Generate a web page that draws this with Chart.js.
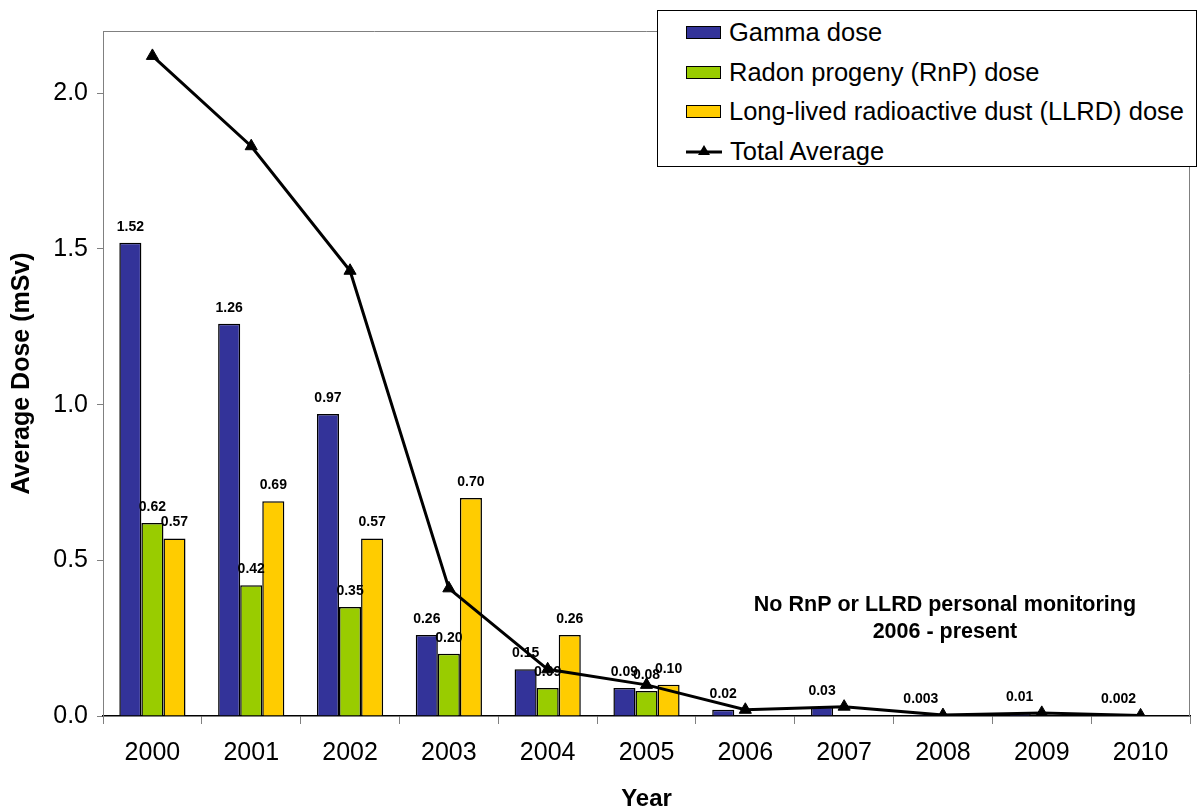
<!DOCTYPE html>
<html>
<head>
<meta charset="utf-8">
<script src="https://cdn.jsdelivr.net/npm/chart.js@4"></script>
<style>
    body { margin: 0; background: #fff; font-family: "Liberation Sans", Arial, sans-serif; }
    #wrap { position: relative; width: 1200px; height: 807px; }
    #legend {
        position: absolute; left: 657px; top: 10px; width: 540px; height: 157px;
        border: 1px solid #000; background: #fff; box-sizing: border-box;
        font-size: 25.5px; color: #000;
    }
    .legend-item { position: absolute; left: 28px; display: flex; align-items: center; height: 30px; }
    .swatch { width: 33px; height: 11px; border: 1.5px solid #000; margin-right: 8px; }
</style>
</head>
<body>
<div id="wrap">
    <canvas id="doseChart"></canvas>
    <div id="legend">
        <div class="legend-item" style="top: 6px;"><span class="swatch" style="background:#333399"></span>Gamma dose</div>
        <div class="legend-item" style="top: 46px;"><span class="swatch" style="background:#99CC00"></span>Radon progeny (RnP) dose</div>
        <div class="legend-item" style="top: 85px;"><span class="swatch" style="background:#FFCC00"></span>Long-lived radioactive dust (LLRD) dose</div>
        <div class="legend-item" style="top: 125px;">
            <svg width="36" height="14" style="margin-right:8px"><line x1="0" y1="8" x2="36" y2="8" stroke="#000" stroke-width="3"/><polygon points="18,1 24,11 12,11" fill="#000"/></svg>Total Average
        </div>
    </div>
</div>
<script>
const years = ['2000', '2001', '2002', '2003', '2004', '2005', '2006', '2007', '2008', '2009', '2010'];
const gammaDose = [1.52, 1.26, 0.97, 0.26, 0.15, 0.09, 0.02, 0.03, 0.003, 0.01, 0.002];
const radonDose = [0.62, 0.42, 0.35, 0.20, 0.09, 0.08, null, null, null, null, null];
const dustDose = [0.57, 0.69, 0.57, 0.70, 0.26, 0.10, null, null, null, null, null];
const totalAverage = [2.12, 1.83, 1.43, 0.41, 0.15, 0.10, 0.02, 0.03, 0.003, 0.01, 0.002];
const yTicks = [0, 0.5, 1.0, 1.5, 2.0];

const FONT = '"Liberation Sans", Arial, sans-serif';

function formatLabel(v) {
    return v < 0.01 ? v.toFixed(3) : v.toFixed(2);
}

// value labels above the bars
const barLabels = {
    id: 'barLabels',
    afterDatasetsDraw(chart) {
        const ctx = chart.ctx;
        ctx.save();
        ctx.font = 'bold 14px ' + FONT;
        ctx.fillStyle = '#000';
        ctx.textAlign = 'center';
        ctx.textBaseline = 'middle';
        chart.data.datasets.forEach((ds, i) => {
            if (ds.type === 'line') return;
            const meta = chart.getDatasetMeta(i);
            meta.data.forEach((bar, j) => {
                const v = ds.data[j];
                if (v == null) return;
                ctx.fillText(formatLabel(v), bar.x, bar.y - 16);
            });
        });
        ctx.restore();
    }
};

// plot frame + note text
const frame = {
    id: 'frame',
    beforeDatasetsDraw(chart) {
        const { ctx, chartArea: a } = chart;
        ctx.save();
        ctx.strokeStyle = '#808080';
        ctx.lineWidth = 1;
        ctx.beginPath();
        ctx.moveTo(a.left, a.top + 0.5);
        ctx.lineTo(a.right - 0.5, a.top + 0.5);
        ctx.lineTo(a.right - 0.5, a.bottom);
        ctx.stroke();
        ctx.restore();
    },
    afterDraw(chart) {
        const ctx = chart.ctx;
        const x = chart.scales.x.getPixelForValue(8);
        const y = chart.scales.y;
        ctx.save();
        ctx.font = 'bold 21.5px ' + FONT;
        ctx.fillStyle = '#000';
        ctx.textAlign = 'center';
        ctx.textBaseline = 'middle';
        ctx.fillText('No RnP or LLRD personal monitoring', x + 2, y.getPixelForValue(0.355));
        ctx.fillText('2006 - present', x + 2, y.getPixelForValue(0.268));
        ctx.restore();
    }
};

const ctx = document.getElementById('doseChart').getContext('2d');
new Chart(ctx, {
    type: 'bar',
    data: {
        labels: years,
        datasets: [
            {
                type: 'line',
                label: 'Total Average',
                data: totalAverage,
                borderColor: '#000',
                backgroundColor: '#000',
                borderWidth: 3,
                pointStyle: 'triangle',
                pointRadius: 7,
                pointBorderWidth: 1,
                tension: 0,
                order: 0
            },
            {
                label: 'Gamma dose',
                data: gammaDose,
                backgroundColor: '#333399',
                borderColor: '#000',
                borderWidth: 1.5,
                order: 1
            },
            {
                label: 'Radon progeny (RnP) dose',
                data: radonDose,
                backgroundColor: '#99CC00',
                borderColor: '#000',
                borderWidth: 1.5,
                order: 1
            },
            {
                label: 'Long-lived radioactive dust (LLRD) dose',
                data: dustDose,
                backgroundColor: '#FFCC00',
                borderColor: '#000',
                borderWidth: 1.5,
                order: 1
            }
        ]
    },
    options: {
        responsive: true,
        maintainAspectRatio: false,
        animation: false,
        categoryPercentage: 0.67,
        barPercentage: 1,
        layout: { padding: { top: 31, right: 10, left: 0, bottom: 0 } },
        plugins: {
            legend: { display: false },
            tooltip: { enabled: false }
        },
        scales: {
            x: {
                grid: {
                    offset: true,
                    drawOnChartArea: false,
                    tickLength: 8,
                    color: '#808080'
                },
                border: { color: '#000', width: 1.5 },
                ticks: {
                    color: '#000',
                    font: { family: FONT, size: 25 },
                    padding: 14,
                    maxRotation: 0
                },
                title: {
                    display: true,
                    text: 'Year',
                    color: '#000',
                    font: { family: FONT, size: 24, weight: 'bold' },
                    padding: { top: 0, bottom: -7 }
                },
                afterFit(scale) { scale.height = 91; }
            },
            y: {
                min: 0,
                max: 2.2,
                grid: {
                    drawOnChartArea: false,
                    tickLength: 6,
                    color: '#808080'
                },
                border: { color: '#808080', width: 1 },
                afterBuildTicks(scale) {
                    scale.ticks = yTicks.map(v => ({ value: v }));
                },
                ticks: {
                    color: '#000',
                    font: { family: FONT, size: 25 },
                    padding: 9,
                    callback: v => v.toFixed(1)
                },
                title: {
                    display: true,
                    text: 'Average Dose (mSv)',
                    color: '#000',
                    font: { family: FONT, size: 25, weight: 'bold' },
                    padding: { top: 7, bottom: 0 }
                },
                afterFit(scale) { scale.width = 103; }
            }
        }
    },
    plugins: [frame, barLabels]
});
</script>
</body>
</html>
